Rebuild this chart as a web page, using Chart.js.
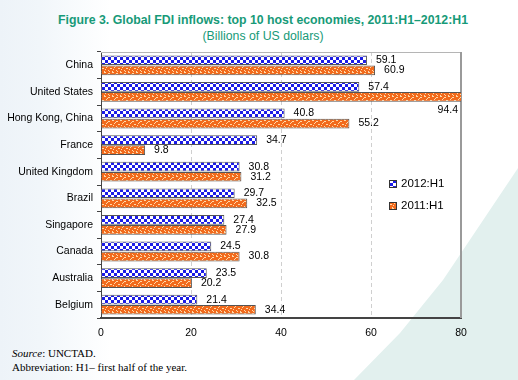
<!DOCTYPE html>
<html>
<head>
<meta charset="utf-8">
<script src="https://cdn.jsdelivr.net/npm/chart.js@4.4.1/dist/chart.umd.min.js"></script>
<style>
  html, body { margin:0; padding:0; }
  body { width:518px; height:380px; position:relative; overflow:hidden; background:#fff;
         font-family:"Liberation Sans", Arial, sans-serif; }
  #bgleft { position:absolute; left:0; top:0; width:120px; height:380px;
            background:linear-gradient(to right, #edf3f8 0px, #f1f6fa 40px, rgba(255,255,255,0) 110px); }
  #bgteal { position:absolute; left:0; top:0; width:518px; height:380px; background:#e2f0ee;
            clip-path: polygon(518px 168px, 443px 280px, 400px 333px, 354px 380px, 518px 380px); }
  #title { position:absolute; left:0; width:518px; top:13px; text-align:center; color:#179a78;
           font-weight:bold; font-size:12.3px; padding-left:8px; box-sizing:border-box; }
  #subtitle { position:absolute; left:0; width:518px; top:29px; text-align:center; color:#179a78;
           font-size:12.3px; padding-left:8px; box-sizing:border-box; }
  #src { position:absolute; left:12px; top:347px; font-family:"Liberation Serif", "Times New Roman", serif;
         font-size:11px; line-height:13.5px; color:#000; }
  canvas { position:absolute; left:0; top:0; }
</style>
</head>
<body>
<div id="bgleft"></div>
<div id="bgteal"></div>
<div id="title">Figure 3. Global FDI inflows: top 10 host economies, 2011:H1–2012:H1</div>
<div id="subtitle">(Billions of US dollars)</div>
<div id="src"><i>Source</i>: UNCTAD.<br>Abbreviation: H1– first half of the year.</div>
<canvas id="c" width="518" height="380"></canvas>
<script>
const categories = ["China","United States","Hong Kong, China","France","United Kingdom","Brazil","Singapore","Canada","Australia","Belgium"];
const seriesNames = ["2012:H1","2011:H1"];
const values2012 = [59.1,57.4,40.8,34.7,30.8,29.7,27.4,24.5,23.5,21.4];
const values2011 = [60.9,94.4,55.2,9.8,31.2,32.5,27.9,30.8,20.2,34.4];
const xTicks = [0,20,40,60,80];

const ctx = document.getElementById('c').getContext('2d');

function makeChecker(){
  const c = document.createElement('canvas'); c.width = 6; c.height = 6;
  const g = c.getContext('2d');
  g.fillStyle = '#1c1ce6'; g.fillRect(0,0,6,6);
  g.fillStyle = '#ffffff'; g.fillRect(0,0,3,3); g.fillRect(3,3,3,3);
  return ctx.createPattern(c,'repeat');
}
function makeDots(){
  const c = document.createElement('canvas'); c.width = 8; c.height = 8;
  const g = c.getContext('2d');
  g.fillStyle = '#f26a1c'; g.fillRect(0,0,8,8);
  g.fillStyle = '#ffd9a8';
  [[0,0],[1,0],[4,1],[5,1],[2,3],[6,4],[7,4],[1,5],[4,6],[5,7],[3,2],[0,7]].forEach(p=>g.fillRect(p[0],p[1],1,1));
  return ctx.createPattern(c,'repeat');
}
const checker = makeChecker();
const dots = makeDots();

const frame = {
  id:'frame',
  beforeDatasetsDraw(chart){
    const a = chart.chartArea, g = chart.ctx;
    g.save();
    g.strokeStyle = '#b5b5b5'; g.lineWidth = 1;
    g.beginPath(); g.moveTo(a.left, a.top+0.5); g.lineTo(a.right, a.top+0.5); g.stroke();
    g.strokeStyle = '#9a9a9a'; g.lineWidth = 2;
    g.beginPath(); g.moveTo(a.right, a.top); g.lineTo(a.right, a.bottom); g.stroke();
    g.restore();
  }
};

const labels = {
  id:'labels',
  afterDatasetsDraw(chart){
    const g = chart.ctx, a = chart.chartArea, xs = chart.scales.x;
    g.save();
    g.font = '10.5px "Liberation Sans", Arial, sans-serif';
    g.fillStyle = '#000'; g.textBaseline = 'middle';
    chart.data.datasets.forEach((ds,i)=>{
      const meta = chart.getDatasetMeta(i);
      meta.data.forEach((el,j)=>{
        const v = ds.data[j];
        const t = v.toFixed(1);
        if (v > xs.max) { g.textAlign = 'right'; g.fillText(t, a.right-3, el.y+13); }
        else { g.textAlign = 'left'; g.fillText(t, el.x+9, el.y); }
      });
    });
    const items = [[checker, seriesNames[0], 184],[dots, seriesNames[1], 206]];
    items.forEach(it=>{
      g.fillStyle = it[0]; g.fillRect(389, it[2]-4, 8, 8);
      g.strokeStyle = '#333'; g.lineWidth = 1; g.strokeRect(389.5, it[2]-3.5, 7, 7);
      g.fillStyle = '#000'; g.textAlign = 'left'; g.font = '11.5px "Liberation Sans", Arial, sans-serif';
      g.fillText(it[1], 401, it[2]);
    });
    g.restore();
  }
};

new Chart(ctx, {
  type:'bar',
  data:{
    labels: categories,
    datasets:[
      { label: seriesNames[0], data: values2012, backgroundColor: checker, borderColor:'#555', borderWidth:1,
        categoryPercentage:0.76, barPercentage:0.96 },
      { label: seriesNames[1], data: values2011, backgroundColor: dots, borderColor:'#555', borderWidth:1,
        categoryPercentage:0.76, barPercentage:0.96 }
    ]
  },
  options:{
    indexAxis:'y',
    responsive:false,
    animation:false,
    layout:{ padding:{ left:0, top:52, right:57, bottom:40 } },
    plugins:{ legend:{display:false}, title:{display:false}, tooltip:{enabled:false} },
    scales:{
      x:{
        min:0, max:80,
        afterBuildTicks(axis){ axis.ticks = xTicks.map(v=>({value:v})); },
        afterFit(axis){ axis.height = 22; },
        grid:{ color:(c)=> (c.tick && (c.tick.value===0 || c.tick.value===80)) ? 'rgba(0,0,0,0)' : '#cfcfcf',
               drawTicks:false, lineWidth:1 },
        border:{ display:true, color:'#444', width:2, dash:[4,3] },
        ticks:{ padding:9, color:'#000', font:{ family:'"Liberation Sans", Arial, sans-serif', size:10.5 } }
      },
      y:{
        afterFit(axis){ axis.width = 101; },
        grid:{ offset:true, drawOnChartArea:false, drawTicks:true, tickLength:4, color:'#444' },
        border:{ display:true, color:'#444', width:1 },
        ticks:{ padding:4, color:'#000', font:{ family:'"Liberation Sans", Arial, sans-serif', size:10.5 } }
      }
    }
  },
  plugins:[frame, labels]
});
</script>
</body>
</html>
